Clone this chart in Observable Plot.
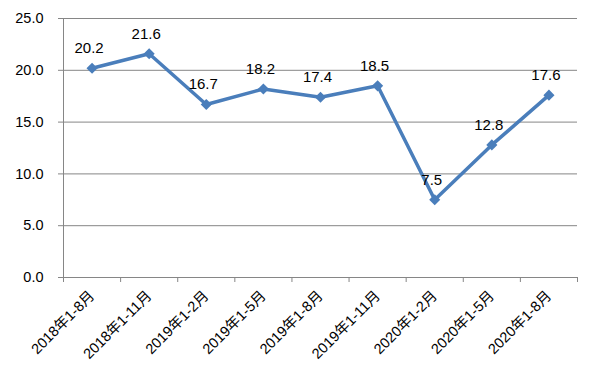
<!DOCTYPE html>
<html>
<head>
<meta charset="utf-8">
<script src="https://cdn.jsdelivr.net/npm/d3@7"></script>
<script src="https://cdn.jsdelivr.net/npm/@observablehq/plot@0.6"></script>
<style>
  html, body { margin: 0; padding: 0; background: #fff; }
</style>
</head>
<body>
<div id="chart"></div>
<script>
const categories = ["2018年1-8月", "2018年1-11月", "2019年1-2月", "2019年1-5月", "2019年1-8月", "2019年1-11月", "2020年1-2月", "2020年1-5月", "2020年1-8月"];
const values = [20.2, 21.6, 16.7, 18.2, 17.4, 18.5, 7.5, 12.8, 17.6];
const yTicks = [0, 5, 10, 15, 20, 25];

const data = categories.map((c, i) => ({i, c, v: values[i]}));
const idx = d3.range(categories.length);
const bounds = d3.range(categories.length + 1).map(k => k - 0.5);

const gray = "#868686";
const blue = "#4A7EBB";

const chart = Plot.plot({
  width: 591,
  height: 384,
  marginLeft: 63,
  marginRight: 14,
  marginTop: 18,
  marginBottom: 107,
  style: {fontFamily: "'Liberation Sans', 'Noto Sans CJK SC', sans-serif", fontSize: "14px", color: "#000", background: "#fff"},
  x: {type: "linear", domain: [-0.5, categories.length - 0.5], axis: null},
  y: {domain: [0, 25], axis: null},
  marks: [
    Plot.gridY(yTicks, {stroke: gray, strokeOpacity: 1}),
    Plot.axisY(yTicks, {label: null, tickSize: 5, tickPadding: 15, stroke: gray, tickFormat: d => d.toFixed(1), fontSize: 14.5, fill: "#000"}),
    Plot.ruleX([-0.5], {stroke: gray}),
    Plot.ruleY([0], {stroke: gray}),
    Plot.axisX(bounds, {label: null, tickSize: 5, stroke: gray, tickFormat: () => ""}),
    Plot.axisX(idx, {label: null, tickSize: 0, tickPadding: 16, tickRotate: -45, tickFormat: i => categories[i], fontSize: 14.5, fill: "#000"}),
    Plot.line(data, {x: "i", y: "v", stroke: blue, strokeWidth: 3.5}),
    Plot.dot(data, {x: "i", y: "v", symbol: "diamond2", r: 5, fill: blue, stroke: "none"}),
    Plot.text(data, {x: "i", y: "v", text: d => d.v.toFixed(1), dy: -20, dx: -3, fontSize: 15, fill: "#000"})
  ]
});
document.getElementById("chart").appendChild(chart);
</script>
</body>
</html>
